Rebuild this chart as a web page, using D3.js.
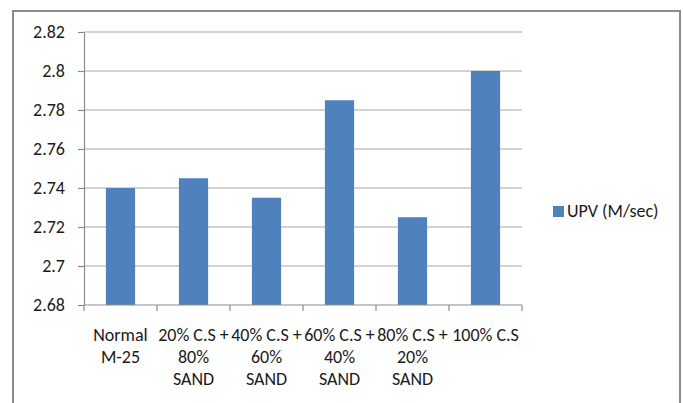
<!DOCTYPE html>
<html>
<head>
<meta charset="utf-8">
<script src="https://cdn.jsdelivr.net/npm/d3@7"></script>
<style>
  html, body { margin: 0; padding: 0; background: #fff; }
  svg { display: block; }
  text { font-family: Carlito, Calibri, Lato, "Liberation Sans", sans-serif; fill: #1a1a1a; }
</style>
</head>
<body>
<svg id="chart" width="683" height="403"></svg>
<script>
// Mix labels, one entry per line of the wrapped category label
const categoryLines = [
  ["Normal", "M-25"],
  ["20% C.S +", "80%", "SAND"],
  ["40% C.S +", "60%", "SAND"],
  ["60% C.S +", "40%", "SAND"],
  ["80% C.S +", "20%", "SAND"],
  ["100% C.S"]
];
const categories = categoryLines.map(l => l.join(" "));
const seriesName = "UPV (M/sec)";
const upvValues = [2.74, 2.745, 2.735, 2.785, 2.725, 2.80];
const yTickValues = [2.68, 2.70, 2.72, 2.74, 2.76, 2.78, 2.80, 2.82];
const yTickLabels = ["2.68", "2.7", "2.72", "2.74", "2.76", "2.78", "2.8", "2.82"];

const svg = d3.select("#chart");
const plot = { left: 84, right: 522, top: 32, bottom: 305 };
const fontSize = 18;
const barColor = "#4f81bd";

// Outer chart frame (bottom edge runs past the visible area)
svg.append("rect")
  .attr("x", 13).attr("y", 11)
  .attr("width", 667).attr("height", 420)
  .attr("fill", "#fff")
  .attr("stroke", "#8c8c8c").attr("stroke-width", 2);

const x = d3.scaleBand()
  .domain(categories)
  .range([plot.left, plot.right])
  .paddingInner(0.6)
  .paddingOuter(0.3);

const xCells = d3.scaleBand()
  .domain(categories)
  .range([plot.left, plot.right])
  .padding(0);

const y = d3.scaleLinear()
  .domain([yTickValues[0], yTickValues[yTickValues.length - 1]])
  .range([plot.bottom, plot.top]);

// Horizontal gridlines
svg.append("g")
  .selectAll("line")
  .data(yTickValues.slice(1))
  .join("line")
  .attr("x1", plot.left).attr("x2", plot.right)
  .attr("y1", d => y(d)).attr("y2", d => y(d))
  .attr("stroke", "#c4c4c4").attr("stroke-width", 1.4);

// Y axis
const yAxis = d3.axisLeft(y)
  .tickValues(yTickValues)
  .tickFormat((d, i) => yTickLabels[i])
  .tickSize(6)
  .tickPadding(13)
  .tickSizeOuter(0);
const gy = svg.append("g")
  .attr("transform", `translate(${plot.left},0)`)
  .call(yAxis);
gy.attr("font-family", null).attr("font-size", null);
gy.select(".domain").attr("stroke", "#8c8c8c").attr("stroke-width", 1.2);
gy.selectAll(".tick line").attr("stroke", "#8c8c8c").attr("stroke-width", 1.2);
gy.selectAll(".tick text")
  .attr("font-size", fontSize)
  .attr("fill", "#1a1a1a");

// Bars
svg.append("g")
  .selectAll("rect")
  .data(upvValues)
  .join("rect")
  .attr("x", (d, i) => x(categories[i]))
  .attr("width", x.bandwidth())
  .attr("y", d => y(d))
  .attr("height", d => y(yTickValues[0]) - y(d))
  .attr("fill", barColor);

// X axis line and category boundary ticks
const gx = svg.append("g");
gx.append("line")
  .attr("x1", plot.left).attr("x2", plot.right)
  .attr("y1", plot.bottom).attr("y2", plot.bottom)
  .attr("stroke", "#8c8c8c").attr("stroke-width", 1.2);
const boundaries = categories.map(c => xCells(c)).concat([plot.right]);
gx.selectAll("line.tick")
  .data(boundaries)
  .join("line")
  .attr("class", "tick")
  .attr("x1", d => d).attr("x2", d => d)
  .attr("y1", plot.bottom).attr("y2", plot.bottom + 6)
  .attr("stroke", "#8c8c8c").attr("stroke-width", 1.2);

// Wrapped category labels
const labels = svg.append("g")
  .selectAll("text")
  .data(categoryLines)
  .join("text")
  .attr("text-anchor", "middle")
  .attr("font-size", fontSize)
  .attr("transform", (d, i) => `translate(${xCells(categories[i]) + xCells.bandwidth() / 2},${plot.bottom + 36})`);
labels.selectAll("tspan")
  .data(d => d)
  .join("tspan")
  .attr("x", 0)
  .attr("y", (d, i) => i * 22)
  .text(d => d);

// Legend
const legend = svg.append("g").attr("transform", "translate(553,206)");
legend.append("rect")
  .attr("width", 11).attr("height", 11)
  .attr("fill", barColor);
legend.append("text")
  .attr("x", 14).attr("y", 10.5)
  .attr("font-size", fontSize)
  .text(seriesName);
</script>
</body>
</html>
